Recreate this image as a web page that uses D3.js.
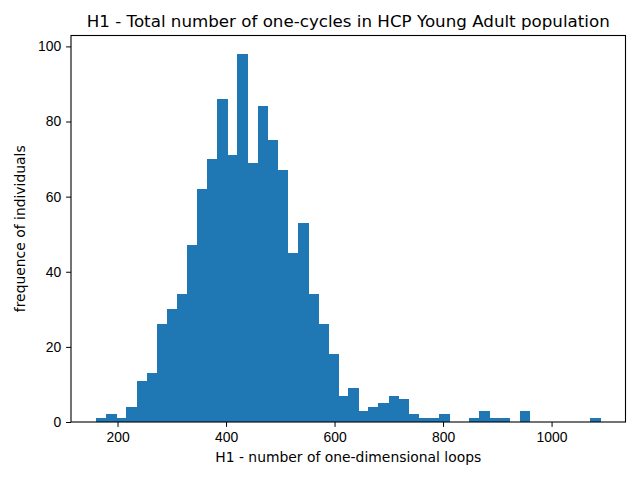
<!DOCTYPE html>
<html lang="en">
<head>
  <meta charset="UTF-8">
  <title>H1 - Total number of one-cycles</title>
  <script src="https://d3js.org/d3.v7.min.js"></script>
  <style>
    body { margin: 0; background: #fff; }
    svg { display: block; font-family: "DejaVu Sans", sans-serif; }
    .tick text { font-size: 13.9px; fill: #000; }
    .tick line, .domain { stroke: #000; }
    .bar { shape-rendering: crispEdges; }
  </style>
</head>
<body>
  <div id="chart"></div>
  <script>
    // histogram data (50 bins)
    const binStart = 160.7;
    const binEnd = 1089.8;
    const counts = [
      1, 2, 1, 4, 11, 13, 26, 30, 34, 47,
      62, 70, 86, 71, 98, 69, 84, 75, 67, 45,
      53, 34, 26, 18, 7, 9, 3, 4, 5, 7,
      6, 2, 1, 1, 2, 0, 0, 1, 3, 1,
      1, 0, 3, 0, 0, 0, 0, 0, 0, 1
    ];
    const xTicks = [200, 400, 600, 800, 1000];
    const yTicks = [0, 20, 40, 60, 80, 100];

    const W = 640, H = 480;
    const margin = { top: 35.5, right: 14.5, bottom: 58, left: 71 };
    const width = W - margin.left - margin.right;
    const height = H - margin.top - margin.bottom;

    const binW = (binEnd - binStart) / counts.length;
    const bins = counts.map((c, i) => ({ x0: binStart + i * binW, x1: binStart + (i + 1) * binW, n: c }));

    const pad = (binEnd - binStart) * 0.05;
    const x = d3.scaleLinear().domain([binStart - pad, binEnd + pad]).range([0, width]);
    const y = d3.scaleLinear().domain([0, d3.max(counts) * 1.05]).range([height, 0]);

    const svg = d3.select("#chart").append("svg")
      .attr("width", W).attr("height", H)
      .append("g")
      .attr("transform", `translate(${margin.left},${margin.top})`);

    svg.selectAll("rect.bar")
      .data(bins.filter(b => b.n > 0))
      .join("rect")
      .attr("class", "bar")
      .attr("x", d => x(d.x0))
      .attr("width", d => x(d.x1) - x(d.x0) + 0.6)
      .attr("y", d => y(d.n))
      .attr("height", d => y(0) - y(d.n))
      .attr("fill", "#1f77b4");

    // axes
    const xAxis = svg.append("g")
      .attr("transform", `translate(0,${height})`)
      .call(d3.axisBottom(x).tickValues(xTicks).tickFormat(d3.format("d"))
        .tickSize(4.9).tickPadding(4.9).tickSizeOuter(0));
    const yAxis = svg.append("g")
      .call(d3.axisLeft(y).tickValues(yTicks).tickFormat(d3.format("d"))
        .tickSize(4.9).tickPadding(4.9).tickSizeOuter(0));
    xAxis.select(".domain").remove();
    yAxis.select(".domain").remove();

    // frame
    svg.append("rect")
      .attr("width", width).attr("height", height)
      .attr("fill", "none").attr("stroke", "#000").attr("stroke-width", 1.1);

    svg.append("text")
      .attr("x", width / 2).attr("y", -8.5)
      .attr("text-anchor", "middle")
      .style("font-size", "16.7px")
      .text("H1 - Total number of one-cycles in HCP Young Adult population");

    svg.append("text")
      .attr("x", width / 2).attr("y", height + 40)
      .attr("text-anchor", "middle")
      .style("font-size", "13.9px")
      .text("H1 - number of one-dimensional loops");

    svg.append("text")
      .attr("transform", "rotate(-90)")
      .attr("x", -height / 2).attr("y", -46)
      .attr("text-anchor", "middle")
      .style("font-size", "13.9px")
      .text("frequence of individuals");
  </script>
</body>
</html>
